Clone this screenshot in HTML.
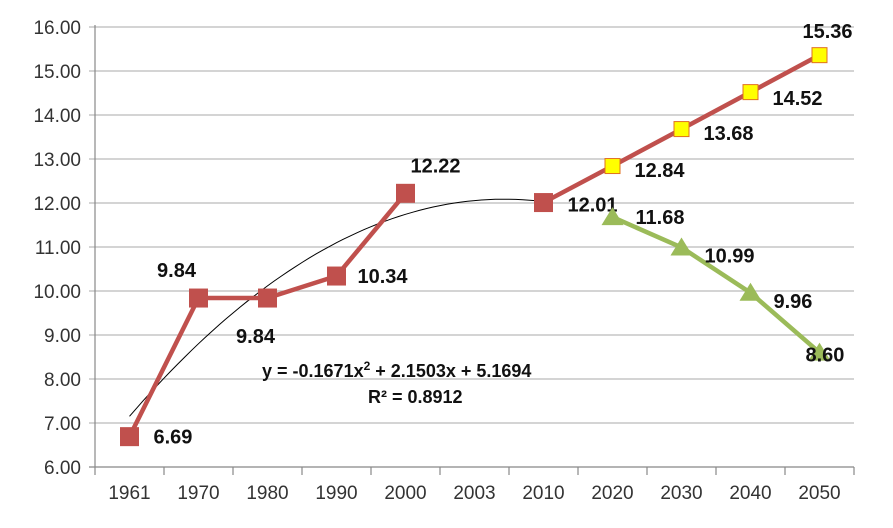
<!DOCTYPE html>
<html><head><meta charset="utf-8"><style>
body{margin:0;background:#fff}
svg{display:block;font-family:"Liberation Sans",Calibri,sans-serif}
</style></head><body>
<svg id="c" width="893" height="528"></svg>
<script>
const categories=["1961","1970","1980","1990","2000","2003","2010","2020","2030","2040","2050"];
const mainValues=[6.69,9.84,9.84,10.34,12.22,null,12.01,12.84,13.68,14.52,15.36];
const lowValues=[null,null,null,null,null,null,null,11.68,10.99,9.96,8.60];
const yTicks=[6,7,8,9,10,11,12,13,14,15,16];
const trendCoef=[-0.1671,2.1503,5.1694];
// label offsets: [dx of left edge (or center if anchor middle), dy of text center, anchor]
const mainLabelOffsets=[[24,0,'start'],[-22,-28,'middle'],[-12,38,'middle'],[21,0,'start'],[30,-28,'middle'],null,[24,2,'start'],[22,4,'start'],[22,4,'start'],[22,6,'start'],[8,-24,'middle']];
const lowLabelOffsets=[[23,0],[23,8],[23,8],[-14,2]];
const NS="http://www.w3.org/2000/svg";
const svg=document.getElementById('c');
const L=95,R=854,T=27,B=467,ymin=6,ymax=16;
const bw=(R-L)/categories.length;
const x=i=>L+bw*(i+0.5);
const y=v=>B-(v-ymin)/(ymax-ymin)*(B-T);
function mk(t,a,p){const e=document.createElementNS(NS,t);for(const k in a)e.setAttribute(k,a[k]);(p||svg).appendChild(e);return e;}
yTicks.forEach(v=>{
 const g=mk('line',{x1:L-6,x2:R,y1:y(v),y2:y(v),stroke:v===ymin?'#888':'#bbb','stroke-width':1.2});
 
 
 const t=mk('text',{x:L-14,y:y(v)+7,'text-anchor':'end','font-size':19,fill:'#333'});
 t.textContent=v.toFixed(2);
 
 
});
const ax=mk('line',{x1:L,x2:L,y1:T-2,y2:B,stroke:'#888','stroke-width':1.2});


for(let i=0;i<=categories.length;i++){
 const tk=mk('line',{x1:L+bw*i,x2:L+bw*i,y1:B,y2:B+8,stroke:'#888','stroke-width':1.2});
 
 
}
categories.forEach((c,i)=>{
 const t=mk('text',{x:x(i),y:B+32,'text-anchor':'middle','font-size':19,fill:'#333'});
 t.textContent=c;
 
 
});
let d='';
for(let s=0;s<=60;s++){const xi=1+6*s/60;const v=trendCoef[0]*xi*xi+trendCoef[1]*xi+trendCoef[2];d+=(s?'L':'M')+x(xi-1).toFixed(1)+','+y(v).toFixed(1);}
const tr=mk('path',{d:d,fill:'none',stroke:'#000','stroke-width':1});


function line(vals,color,name){
 let p='',pen=false;
 vals.forEach((v,i)=>{if(v==null){pen=false;return;}p+=(pen?'L':'M')+x(i)+','+y(v);pen=true;});
 const e=mk('path',{d:p,fill:'none',stroke:color,'stroke-width':4.5,'stroke-linejoin':'round'});
 
 
}
line(mainValues,'#c0504d','main-series-line');
line(lowValues,'#9bbb59','low-series-line');
mainValues.forEach((v,i)=>{
 if(v==null)return;
 const yel=i>=7;
 const s=yel?15:18;
 const m=mk('rect',{x:x(i)-s/2,y:y(v)-s/2,width:s,height:s,fill:yel?'#ffff00':'#c0504d',stroke:yel?'#e07020':'#c0504d','stroke-width':1});
 
 
 const o=mainLabelOffsets[i];
 const t=mk('text',{x:x(i)+o[0],y:y(v)+o[1]+7,'text-anchor':o[2],'font-size':20,'font-weight':'bold',fill:'#111'});
 t.textContent=v.toFixed(2);
 
 
});
let k=0;
lowValues.forEach((v,i)=>{
 if(v==null)return;
 const cx=x(i),cy=y(v);
 const m=mk('polygon',{points:`${cx},${cy-10} ${cx+11},${cy+8} ${cx-11},${cy+8}`,fill:'#9bbb59'});
 
 
 const o=lowLabelOffsets[k++];
 const t=mk('text',{x:cx+o[0],y:cy+o[1]+7,'font-size':20,'font-weight':'bold',fill:'#111'});
 t.textContent=v.toFixed(2);
 
 
});
const e1=mk('text',{x:262,y:377,'font-size':18,'font-weight':'bold',fill:'#111'});
e1.innerHTML='y = -0.1671x<tspan dy="-7" font-size="12">2</tspan><tspan dy="7"> + 2.1503x + 5.1694</tspan>';


const e2=mk('text',{x:368,y:403,'font-size':18,'font-weight':'bold',fill:'#111'});
e2.textContent='R² = 0.8912';


</script>
</body></html>
